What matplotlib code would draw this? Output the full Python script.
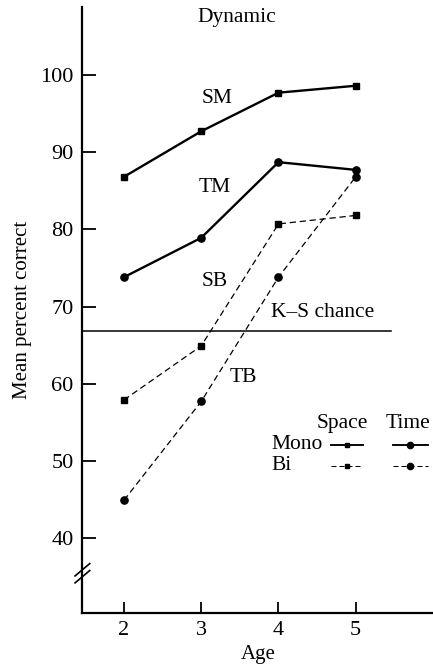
import matplotlib
matplotlib.use("Agg")
import matplotlib.pyplot as plt
from matplotlib.lines import Line2D

plt.rcParams['font.family'] = ['Liberation Serif', 'DejaVu Serif']

ages = [2, 3, 4, 5]
space_mono = [86.8, 92.7, 97.7, 98.6]
time_mono = [73.8, 78.9, 88.7, 87.7]
space_bi = [57.9, 64.9, 80.7, 81.8]
time_bi = [44.9, 57.7, 73.8, 86.8]
chance = 66.8
yticks = [40, 50, 60, 70, 80, 90, 100]

W, H = 433, 665
fig = plt.figure(figsize=(W / 100, H / 100), dpi=100)
ax = fig.add_axes([82 / W, (H - 613) / H, (433 - 82) / W, (613 - 7) / H])

xmin, xmax = 1.457, 6.0
ymin, ymax = 30.3, 108.8
ax.set_xlim(xmin, xmax)
ax.set_ylim(ymin, ymax)

for s in ['top', 'right']:
    ax.spines[s].set_visible(False)
for s in ['left', 'bottom']:
    ax.spines[s].set_linewidth(1.6)

fs = 15.5
ax.set_xticks(ages)
ax.set_yticks(yticks)
ax.tick_params(axis='y', direction='in', length=10, width=1.3, labelsize=16, pad=6)
ax.tick_params(axis='x', direction='in', length=8, width=1.3, labelsize=16, pad=6)

solid = dict(color='black', lw=1.7)
dashed = dict(color='black', lw=0.9, linestyle=(0, (5, 3)))
ax.plot(ages, space_mono, marker='s', ms=3.8, **solid)
ax.plot(ages, time_mono, marker='o', ms=5.2, **solid)
ax.plot(ages, space_bi, marker='s', ms=3.8, **dashed)
ax.plot(ages, time_bi, marker='o', ms=5.2, **dashed)

ax.plot([xmin, 5.45], [chance, chance], color='black', lw=1.1)

ax.text(3.46, 107.5, 'Dynamic', ha='center', va='center', fontsize=fs)
ax.text(3.20, 97.0, 'SM', ha='center', va='center', fontsize=fs)
ax.text(3.18, 85.4, 'TM', ha='center', va='center', fontsize=fs)
ax.text(3.18, 73.3, 'SB', ha='center', va='center', fontsize=fs)
ax.text(3.54, 60.8, 'TB', ha='center', va='center', fontsize=fs)
ax.text(4.57, 69.2, 'K\u2013S chance', ha='center', va='center', fontsize=fs)

# legend block
ax.text(4.82, 54.9, 'Space', ha='center', va='center', fontsize=fs)
ax.text(5.68, 54.9, 'Time', ha='center', va='center', fontsize=fs)
ax.text(3.91, 52.1, 'Mono', ha='left', va='center', fontsize=fs)
ax.text(3.91, 49.35, 'Bi', ha='left', va='center', fontsize=fs)
for (x0, x1, yy, mk, ms, st) in [
    (4.68, 5.10, 52.1, 's', 3.2, solid), (5.48, 5.93, 52.1, 'o', 4.5, solid),
    (4.68, 5.10, 49.35, 's', 3.2, dashed), (5.48, 5.93, 49.35, 'o', 4.5, dashed)]:
    kw = dict(st)
    kw['lw'] = kw['lw'] * 0.8
    ax.add_line(Line2D([x0, x1], [yy, yy], **kw))
    ax.plot([(x0 + x1) / 2], [yy], marker=mk, ms=ms, color='black')

# axis break marks
for dy in (0.0, 0.9):
    ax.add_line(Line2D([xmin - 0.09, xmin + 0.1], [34.2 + dy, 35.8 + dy], color='black',
                       lw=1.2, clip_on=False))

ax.set_ylabel('Mean percent correct', fontsize=15)
ax.yaxis.set_label_coords(-(82 - 32) / 351, (613 - 310) / 606)
ax.set_xlabel('Age', fontsize=15)
ax.xaxis.set_label_coords((258 - 82) / 351, -(645 - 613) / 606)

fig.savefig('out.png', dpi=100)
